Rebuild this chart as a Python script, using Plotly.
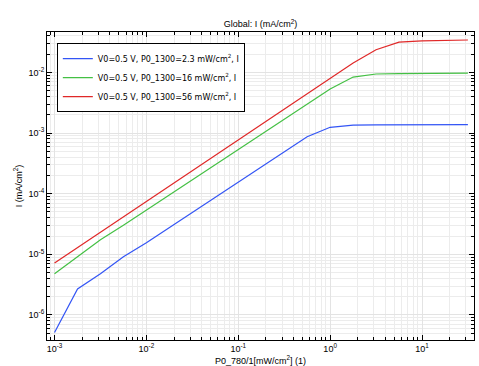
import numpy as np
import plotly.graph_objects as go

# x values: P0_780 (mW/cm^2), 4 points per decade from 1e-3 to ~31.6
x_vals = [1e-3, 1.78e-3, 3.16e-3, 5.62e-3, 1e-2, 1.78e-2, 3.16e-2, 5.62e-2,
          1e-1, 1.78e-1, 3.16e-1, 5.62e-1, 1.0, 1.78, 3.16, 5.62, 10.0, 17.8, 31.6]

# log10 of current I (mA/cm^2)
blue_log = [-6.29, -5.57, -5.32, -5.04, -4.81, -4.56, -4.31, -4.06, -3.81, -3.56,
            -3.31, -3.06, -2.905, -2.87, -2.865, -2.862, -2.862, -2.862, -2.862]
green_log = [-5.32, -5.04, -4.76, -4.52, -4.27, -4.02, -3.77, -3.52, -3.27, -3.02,
             -2.77, -2.52, -2.274, -2.076, -2.026, -2.018, -2.014, -2.012, -2.01]
red_log = [-5.145, -4.89, -4.635, -4.38, -4.125, -3.87, -3.615, -3.36, -3.105, -2.85,
           -2.595, -2.34, -2.085, -1.845, -1.625, -1.50, -1.48, -1.47, -1.465]

x_tick_exps = [-3, -2, -1, 0, 1]
y_tick_exps = [-6, -5, -4, -3, -2]

series_names = ["V0=0.5 V, P0_1300=2.3 mW/cm<sup>2</sup>, I",
                "V0=0.5 V, P0_1300=16 mW/cm<sup>2</sup>, I",
                "V0=0.5 V, P0_1300=56 mW/cm<sup>2</sup>, I"]
series_logs = [blue_log, green_log, red_log]
colors = ["#3355f5", "#44c044", "#e02828"]

FONT = "Liberation Sans"

fig = go.Figure()
for name, lg, c in zip(series_names, series_logs, colors):
    fig.add_trace(go.Scatter(x=x_vals, y=[10 ** v for v in lg], mode="lines",
                             name=name, line=dict(color=c, width=1.2)))


def sup_labels(exps):
    return ["10<sup>%d</sup>" % e for e in exps]


axis_common = dict(
    type="log", tickmode="array", showline=True, linecolor="black",
    linewidth=1, mirror="ticks", ticks="inside", ticklen=5, tickcolor="black",
    showgrid=True, gridcolor="#e3e3e3", gridwidth=1, zeroline=False,
    automargin=False,
    tickfont=dict(size=9, color="black", family=FONT),
    minor=dict(tickmode="linear", dtick="D1", ticks="inside", ticklen=3,
               tickcolor="black", showgrid=True, gridcolor="#ececec", gridwidth=1),
)

fig.update_layout(
    width=479, height=366,
    margin=dict(l=47, r=5, t=32, b=26),
    paper_bgcolor="white", plot_bgcolor="white",
    font=dict(family=FONT, size=9, color="black"),
    title=dict(text="Global: I (mA/cm<sup>2</sup>)", x=0.544, xanchor="center",
               y=0.934, yanchor="middle", font=dict(size=9, family=FONT)),
    xaxis=dict(**axis_common, range=[-3.082, 1.566],
               tickvals=[10.0 ** e for e in x_tick_exps],
               ticktext=sup_labels(x_tick_exps),
               title=dict(text="P0_780/1[mW/cm<sup>2</sup>] (1)", standoff=1,
                          font=dict(size=9))),
    yaxis=dict(**axis_common, range=[-6.413, -1.333],
               tickvals=[10.0 ** e for e in y_tick_exps],
               ticktext=sup_labels(y_tick_exps),
               title=dict(text="I (mA/cm<sup>2</sup>)", standoff=4,
                          font=dict(size=9))),
    legend=dict(x=0.023, y=0.964, xanchor="left", yanchor="top",
                bgcolor="white", bordercolor="black", borderwidth=1,
                font=dict(size=8, family="DejaVu Sans"), tracegroupgap=0,
                itemwidth=30),
    showlegend=True,
)

fig.write_html("out.html", post_script="document.body.style.margin='0';",
               config={"displayModeBar": False})
